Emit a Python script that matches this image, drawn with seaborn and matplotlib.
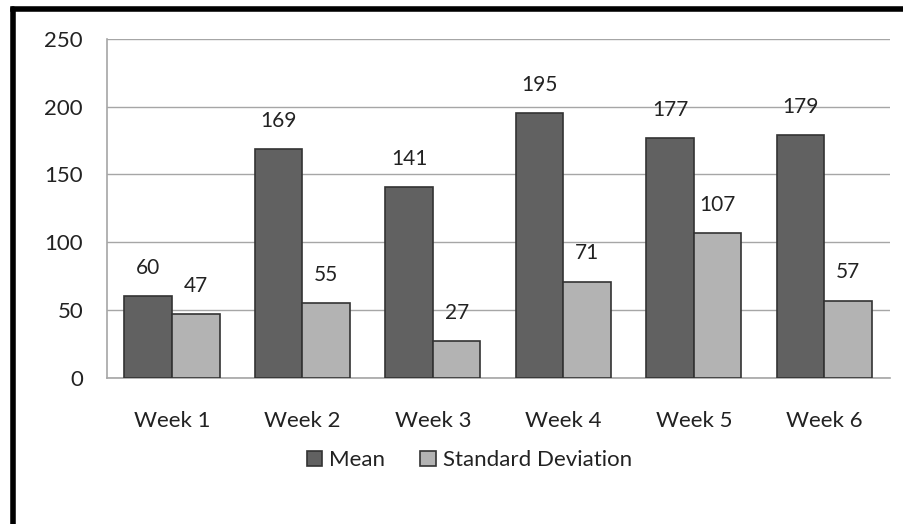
import pandas as pd
import numpy as np
import matplotlib
matplotlib.use('Agg')
import matplotlib.pyplot as plt
import seaborn as sns

weeks = ['Week 1', 'Week 2', 'Week 3', 'Week 4', 'Week 5', 'Week 6']
mean_vals = [60, 169, 141, 195, 177, 179]
sd_vals = [47, 55, 27, 71, 107, 57]
series = ['Mean', 'Standard Deviation']

df = pd.DataFrame({
    'week': weeks * 2,
    'value': mean_vals + sd_vals,
    'stat': [series[0]] * len(weeks) + [series[1]] * len(weeks),
})

sns.set_style('white')
plt.rcParams['font.family'] = ['Lato', 'DejaVu Sans']
plt.rcParams['text.color'] = '#222222'

fig = plt.figure(figsize=(9.04, 5.24), dpi=100)
ax = fig.add_axes([0.118, 0.279, 0.866, 0.647])

sns.barplot(data=df, x='week', y='value', hue='stat', ax=ax,
            palette=['#616161', '#b3b3b3'], width=0.73, gap=0,
            edgecolor='#333333', linewidth=1.2, saturation=1, zorder=3)

# 数值标签
for cont in ax.containers:
    ax.bar_label(cont, padding=13, fontsize=15, color='#222222')

ax.set_ylim(0, 250)
ax.set_yticks([0, 50, 100, 150, 200, 250])
ax.yaxis.grid(True, color='#a6a6a6', linewidth=1, zorder=0)
ax.set_axisbelow(True)
ax.set_xlabel('')
ax.set_ylabel('')
ax.tick_params(axis='x', length=0, pad=24, labelsize=16, labelcolor='#222222')
ax.tick_params(axis='y', length=0, pad=17, labelsize=16, labelcolor='#222222')
for s in ['top', 'right']:
    ax.spines[s].set_visible(False)
for s in ['left', 'bottom']:
    ax.spines[s].set_color('#a6a6a6')
    ax.spines[s].set_linewidth(1.2)

handles, labels = ax.get_legend_handles_labels()
ax.legend(handles, labels, loc='center', bbox_to_anchor=(0.519, 0.122),
          bbox_transform=fig.transFigure, ncol=2, frameon=False,
          fontsize=16, handlelength=0.7, handleheight=0.7,
          columnspacing=1.6, handletextpad=0.3)

# 外框 (左边和上边)
fig.add_artist(plt.Line2D([0.0149, 0.0149], [0, 0.983], color='black',
                          linewidth=4, transform=fig.transFigure))
fig.add_artist(plt.Line2D([0.0149, 1.0], [0.983, 0.983], color='black',
                          linewidth=4, transform=fig.transFigure,
                          solid_capstyle='projecting'))

fig.savefig('out.png', dpi=100)
